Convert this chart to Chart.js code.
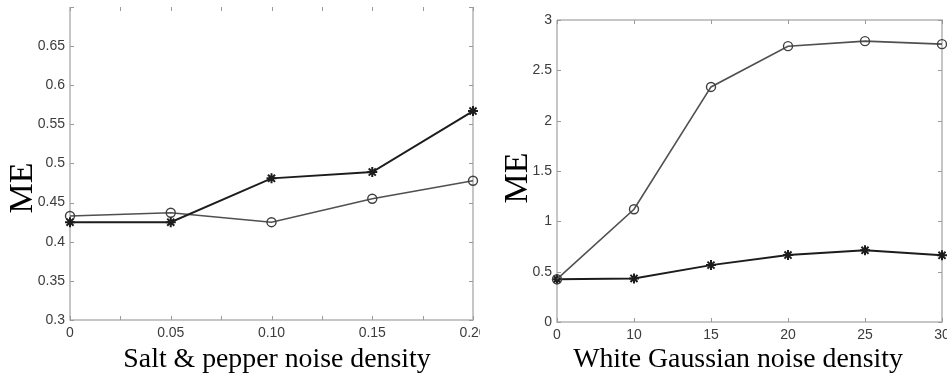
<!DOCTYPE html>
<html>
<head>
<meta charset="utf-8">
<script src="https://cdn.jsdelivr.net/npm/chart.js@4"></script>
<style>
  html, body { margin: 0; padding: 0; background: #fff; overflow: hidden; }
  #wrap { position: relative; width: 947px; height: 380px; overflow: hidden; background: #fff; }
  #p1 { position: absolute; left: 0; top: 0; width: 480px; height: 380px; overflow: hidden; z-index: 2; }
  #p2 { position: absolute; left: 480px; top: 0; width: 480px; height: 380px; z-index: 1; }
  canvas { display: block; }
</style>
</head>
<body>
<div id="wrap">
  <div id="p1"><canvas id="c1" width="500" height="380"></canvas></div>
  <div id="p2"><canvas id="c2" width="480" height="380"></canvas></div>
</div>
<script>
// ---- Left panel data (salt & pepper) ----
const leftX = [0, 0.05, 0.10, 0.15, 0.20];
const leftXTickLabels = ['0', '0.05', '0.10', '0.15', '0.20'];
const leftCircle = [0.433, 0.437, 0.425, 0.455, 0.478];
const leftStar = [0.425, 0.425, 0.481, 0.489, 0.567];
const leftYTickValues = [0.3, 0.35, 0.4, 0.45, 0.5, 0.55, 0.6, 0.65];
const leftYTickLabels = ['0.3', '0.35', '0.4', '0.45', '0.5', '0.55', '0.6', '0.65'];

// ---- Right panel data (white Gaussian) ----
const rightX = ['0', '10', '15', '20', '25', '30'];
const rightCircle = [0.425, 1.12, 2.335, 2.74, 2.79, 2.76];
const rightStar = [0.425, 0.433, 0.565, 0.665, 0.712, 0.662];
const rightYTickValues = [0, 0.5, 1, 1.5, 2, 2.5, 3];
const rightYTickLabels = ['0', '0.5', '1', '1.5', '2', '2.5', '3'];

const leftXLabel = 'Salt & pepper noise density';
const rightXLabel = 'White Gaussian noise density';
const yLabel = 'ME';

const TICK_FONT = { family: '"Liberation Sans", Arial, sans-serif', size: 14 };
const TICK_COLOR = '#3c3c3c';
const FRAME_COLOR = '#b4b4b4';

function lookup(vals, labels, v) {
  const i = vals.findIndex(t => Math.abs(t - v) < 1e-9);
  return i < 0 ? '' : labels[i];
}

// frame + inner ticks + axis titles
const decor = {
  id: 'decor',
  beforeDatasetsDraw(chart, args, o) {
    const { ctx, chartArea: a } = chart;
    const xs = chart.scales.x, ys = chart.scales.y;
    ctx.save();
    ctx.strokeStyle = FRAME_COLOR;
    ctx.lineWidth = 1.5;
    ctx.beginPath();
    ctx.moveTo(a.left, a.top); ctx.lineTo(a.left, a.bottom);
    ctx.lineTo(a.right, a.bottom); ctx.lineTo(a.right, a.top);
    if (o.top) { ctx.lineTo(a.left, a.top); }
    ctx.stroke();
    ctx.lineWidth = 1;
    ctx.strokeStyle = '#9a9a9a';
    const L = 4;
    ctx.beginPath();
    xs.ticks.forEach((t, i) => {
      const px = Math.round(xs.getPixelForTick(i)) + 0.5;
      ctx.moveTo(px, a.bottom); ctx.lineTo(px, a.bottom - L);
      ctx.moveTo(px, a.top); ctx.lineTo(px, a.top + L);
    });
    ys.ticks.forEach((t, i) => {
      const py = Math.round(ys.getPixelForTick(i)) + 0.5;
      ctx.moveTo(a.left, py); ctx.lineTo(a.left + L, py);
      ctx.moveTo(a.right, py); ctx.lineTo(a.right - L, py);
    });
    ctx.stroke();
    ctx.restore();
  },
  afterDraw(chart, args, o) {
    const { ctx } = chart;
    ctx.save();
    ctx.fillStyle = '#000';
    ctx.font = o.xFontSize + 'px "Liberation Serif", "Times New Roman", serif';
    ctx.textAlign = 'center';
    ctx.textBaseline = 'alphabetic';
    ctx.fillText(o.xText, o.xTitleX, o.xTitleY);
    ctx.translate(o.yTitleX, o.yTitleY);
    ctx.rotate(-Math.PI / 2);
    ctx.font = o.yFontSize + 'px "Liberation Serif", "Times New Roman", serif';
    ctx.fillText(o.yText, 0, 0);
    ctx.restore();
  }
};

const starStyle = {
  borderColor: '#1c1c1c', pointBorderColor: '#1c1c1c', pointBackgroundColor: '#1c1c1c',
  borderWidth: 2, pointStyle: 'star', pointRadius: 5, pointBorderWidth: 2,
  fill: false, tension: 0, clip: false
};
const circleStyle = {
  borderColor: '#505050', pointBorderColor: '#404040', pointBackgroundColor: 'rgba(0,0,0,0)',
  borderWidth: 1.6, pointStyle: 'circle', pointRadius: 4.5, pointBorderWidth: 1.4,
  fill: false, tension: 0, clip: false
};

function noPad(s) { s.paddingLeft = 0; s.paddingRight = 0; s.paddingTop = 0; s.paddingBottom = 0; }

// ---- Left chart ----
new Chart(document.getElementById('c1'), {
  type: 'line',
  data: {
    datasets: [
      Object.assign({ label: 'star', data: leftX.map((x, i) => ({ x: x, y: leftStar[i] })) }, starStyle),
      Object.assign({ label: 'circle', data: leftX.map((x, i) => ({ x: x, y: leftCircle[i] })) }, circleStyle)
    ]
  },
  options: {
    responsive: false, animation: false,
    layout: { padding: { top: 3, right: 27, left: 0, bottom: 0 } },
    plugins: {
      legend: { display: false }, tooltip: { enabled: false },
      decor: { top: false, xText: leftXLabel, xFontSize: 27.8, xTitleX: 277, xTitleY: 367,
               yText: yLabel, yFontSize: 34, yTitleX: 32, yTitleY: 188 }
    },
    scales: {
      x: {
        type: 'linear', min: 0, max: 0.2,
        afterBuildTicks: s => {
          const t = [];
          for (let k = 0; k <= 8; k++) t.push({ value: k * 0.025 });
          s.ticks = t;
        },
        ticks: { autoSkip: false, maxRotation: 0, color: TICK_COLOR, font: TICK_FONT, padding: 5,
                 callback: v => lookup(leftX, leftXTickLabels, v) },
        grid: { display: false, drawTicks: false }, border: { display: false },
        afterFit: s => { s.height = 60; noPad(s); }
      },
      y: {
        min: 0.3, max: 0.7,
        ticks: { stepSize: 0.05, color: TICK_COLOR, font: TICK_FONT, padding: 5,
                 callback: v => lookup(leftYTickValues, leftYTickLabels, v) },
        grid: { display: false, drawTicks: false }, border: { display: false },
        afterFit: s => { s.width = 70; noPad(s); }
      }
    }
  },
  plugins: [decor]
});

// ---- Right chart ----
new Chart(document.getElementById('c2'), {
  type: 'line',
  data: {
    labels: rightX,
    datasets: [
      Object.assign({ label: 'circle', data: rightCircle }, circleStyle),
      Object.assign({ label: 'star', data: rightStar }, starStyle)
    ]
  },
  options: {
    responsive: false, animation: false,
    layout: { padding: { top: 20, right: 18, left: 0, bottom: 0 } },
    plugins: {
      legend: { display: false }, tooltip: { enabled: false },
      decor: { top: true, xText: rightXLabel, xFontSize: 27.8, xTitleX: 258, xTitleY: 367,
               yText: yLabel, yFontSize: 34, yTitleX: 47, yTitleY: 178 }
    },
    scales: {
      x: {
        type: 'category', offset: false,
        ticks: { autoSkip: false, maxRotation: 0, color: TICK_COLOR, font: TICK_FONT, padding: 5 },
        grid: { display: false, drawTicks: false }, border: { display: false },
        afterFit: s => { s.height = 58; noPad(s); }
      },
      y: {
        min: 0, max: 3,
        ticks: { stepSize: 0.5, color: TICK_COLOR, font: TICK_FONT, padding: 5,
                 callback: v => lookup(rightYTickValues, rightYTickLabels, v) },
        grid: { display: false, drawTicks: false }, border: { display: false },
        afterFit: s => { s.width = 77; noPad(s); }
      }
    }
  },
  plugins: [decor]
});
</script>
</body>
</html>
